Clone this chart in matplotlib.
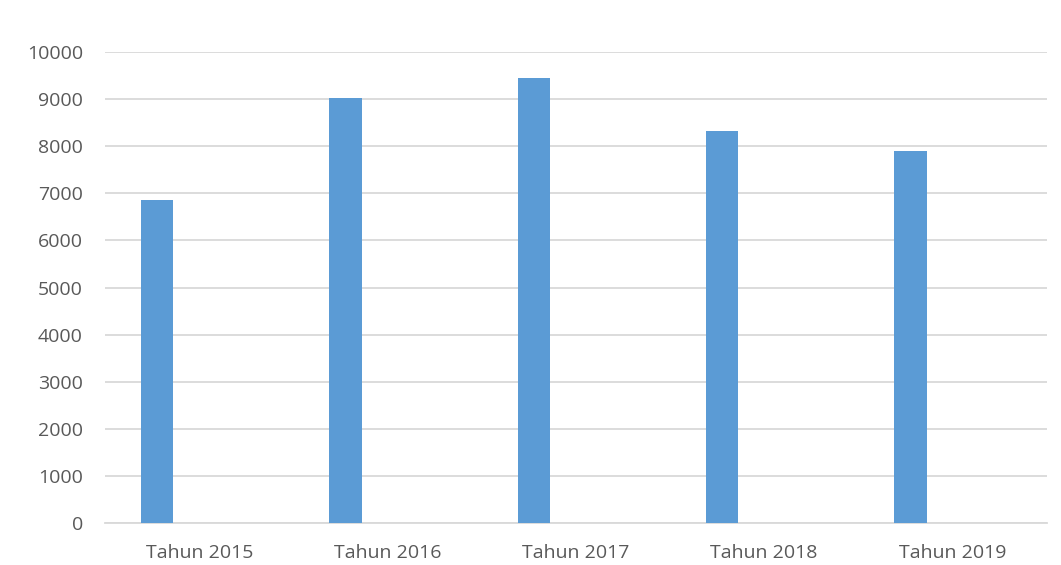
import numpy as np
import matplotlib
matplotlib.use("Agg")
import matplotlib.pyplot as plt

kategori = ["Tahun 2015", "Tahun 2016", "Tahun 2017", "Tahun 2018", "Tahun 2019"]
nilai = [6850, 9020, 9440, 8320, 7890]
y_ticks = [0, 1000, 2000, 3000, 4000, 5000, 6000, 7000, 8000, 9000, 10000]

plt.rcParams['font.family'] = ['Open Sans', 'DejaVu Sans']

fig = plt.figure(figsize=(10.61, 5.65), dpi=100)
ax = fig.add_axes([0.099, 0.0738, 0.8875, 0.8347])

x = np.arange(len(kategori))
# bar sits left of the category centre (Excel clustered layout)
ax.bar(x - 0.223, nilai, width=0.173, color="#5B9BD5", zorder=3)

ax.set_xlim(-0.5, len(kategori) - 0.5)
ax.set_ylim(0, 10000)
ax.set_yticks(y_ticks)
ax.set_xticks(x)
ax.set_xticklabels(kategori)

ax.grid(axis="y", color="#d9d9d9", linewidth=1.3, zorder=0)
for s in ["top", "right", "left"]:
    ax.spines[s].set_visible(False)
ax.spines["bottom"].set_color("#d9d9d9")
ax.spines["bottom"].set_linewidth(1.3)
ax.tick_params(axis="both", length=0, labelsize=14, colors="#595959")
ax.tick_params(axis="y", pad=16)
ax.tick_params(axis="x", pad=15)

fig.savefig("out.png", dpi=100)
